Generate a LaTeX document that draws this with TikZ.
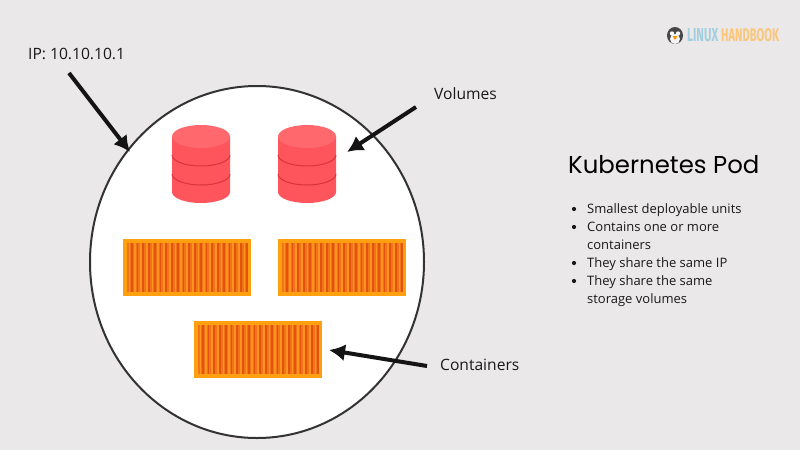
\documentclass[tikz,border=0pt]{standalone}
\usepackage{fontspec}
\setmainfont{Open Sans}
\newfontfamily\titlefont{Poppins}
\newfontfamily\logofont{Fira Sans}
\usetikzlibrary{arrows.meta,shapes.geometric}
\definecolor{bgc}{HTML}{EBE8E9}
\definecolor{cylred}{HTML}{FD555B}
\definecolor{cyltop}{HTML}{FF686C}
\definecolor{cylline}{HTML}{D9343B}
\definecolor{contorange}{HTML}{FFA011}
\definecolor{contdark}{HTML}{E2540E}
\definecolor{contmid}{HTML}{F2741A}
\definecolor{contlight}{HTML}{FF931E}
\definecolor{logoblue}{HTML}{A0CFE0}
\definecolor{logoorange}{HTML}{FBC67A}
\tikzset{
  lbl/.style={font=\fontsize{15.6}{18}\selectfont,text=black!90,inner sep=0pt,anchor=west},
  bullets/.style={font=\fontsize{13}{18}\selectfont,text=black!90,inner sep=0pt,anchor=north west,align=left},
  pointer/.style={line width=4pt,-{Latex[length=16pt,width=17pt]},black!92},
}
\newcommand{\cyl}[2]{%
  \begin{scope}[shift={(#1,#2)}]
    \fill[cylred] (-29,-63.5) -- (-29,-8) arc[start angle=180,end angle=0,x radius=29,y radius=11] -- (29,-63.5) -- cycle;
    \draw[cylline,line width=1pt] (-29,-45) arc[start angle=180,end angle=0,x radius=29,y radius=11];
    \draw[cylline,line width=1pt] (-29,-26) arc[start angle=180,end angle=0,x radius=29,y radius=11];
    \fill[cyltop] (0,-63.5) ellipse[x radius=29,y radius=11.5];
  \end{scope}}
\newcommand{\cont}[2]{%
  \begin{scope}[shift={(#1,#2)}]
    \fill[contorange] (0,0) rectangle (128,57);
    \fill[contmid] (4,4) rectangle (124,53);
    \foreach \i in {0,...,20} {
      \fill[contlight] ({5.5+5.75*\i},4) rectangle ++(1.8,49);
      \fill[contdark] ({7.8+5.75*\i},4) rectangle ++(1.8,49);
    }
  \end{scope}}
\begin{document}
\begin{tikzpicture}[x=1pt,y=-1pt]
\useasboundingbox (0,0) rectangle (800,450);
\fill[bgc] (0,0) rectangle (800,450);
\node[draw=black!80,line width=2pt,fill=white,ellipse,minimum width=334pt,minimum height=352pt,inner sep=0pt] (pod) at (257,262) {};
\cyl{201}{200}
\cyl{307}{200}
\cont{123}{239}
\cont{278}{239}
\cont{194}{321}
\coordinate (ipstart) at (69,73);
\coordinate (iptip) at (130,152);
\coordinate (volstart) at (416,107);
\coordinate (voltip) at (347,152);
\coordinate (constart) at (427,366);
\coordinate (contip) at (329,350);
\draw[pointer] (ipstart) -- (iptip);
\draw[pointer] (volstart) -- (voltip);
\draw[pointer] (constart) -- (contip);
\node[lbl] (iplabel) at (28,54) {IP: 10.10.10.1};
\node[lbl] (vollabel) at (434,94) {Volumes};
\node[lbl] (conlabel) at (440,365) {Containers};
\node[inner sep=0pt,anchor=west,font=\titlefont\fontsize{24.4}{28}\selectfont,text=black] (title) at (568,165) {Kubernetes Pod};
\node[bullets] (list) at (587,203) {Smallest deployable units\\Contains one or more\\containers\\They share the same IP\\They share the same\\storage volumes};
\foreach \yy in {209,227,263,281} \fill[black!90] (574,\yy) circle (2.1);
% logo
\fill[black!72] (675,35.5) ellipse[x radius=8,y radius=8.5];
\fill[white!92!gray] (675,39) ellipse[x radius=5,y radius=5];
\fill[white] (672,33.5) circle (2.2);
\fill[white] (678,33.5) circle (2.2);
\fill[orange!85!yellow] (672.5,36) -- (677.5,36) -- (675,40) -- cycle;
\node[inner sep=0pt,anchor=west,font=\logofont\bfseries,text=logoblue] (logoa) at (687,35) {\resizebox{31pt}{13pt}{LINUX}};
\node[inner sep=0pt,anchor=west,font=\logofont\bfseries,text=logoorange] (logob) at (721,35) {\resizebox{58pt}{13pt}{HANDBOOK}};
\end{tikzpicture}
\end{document}
